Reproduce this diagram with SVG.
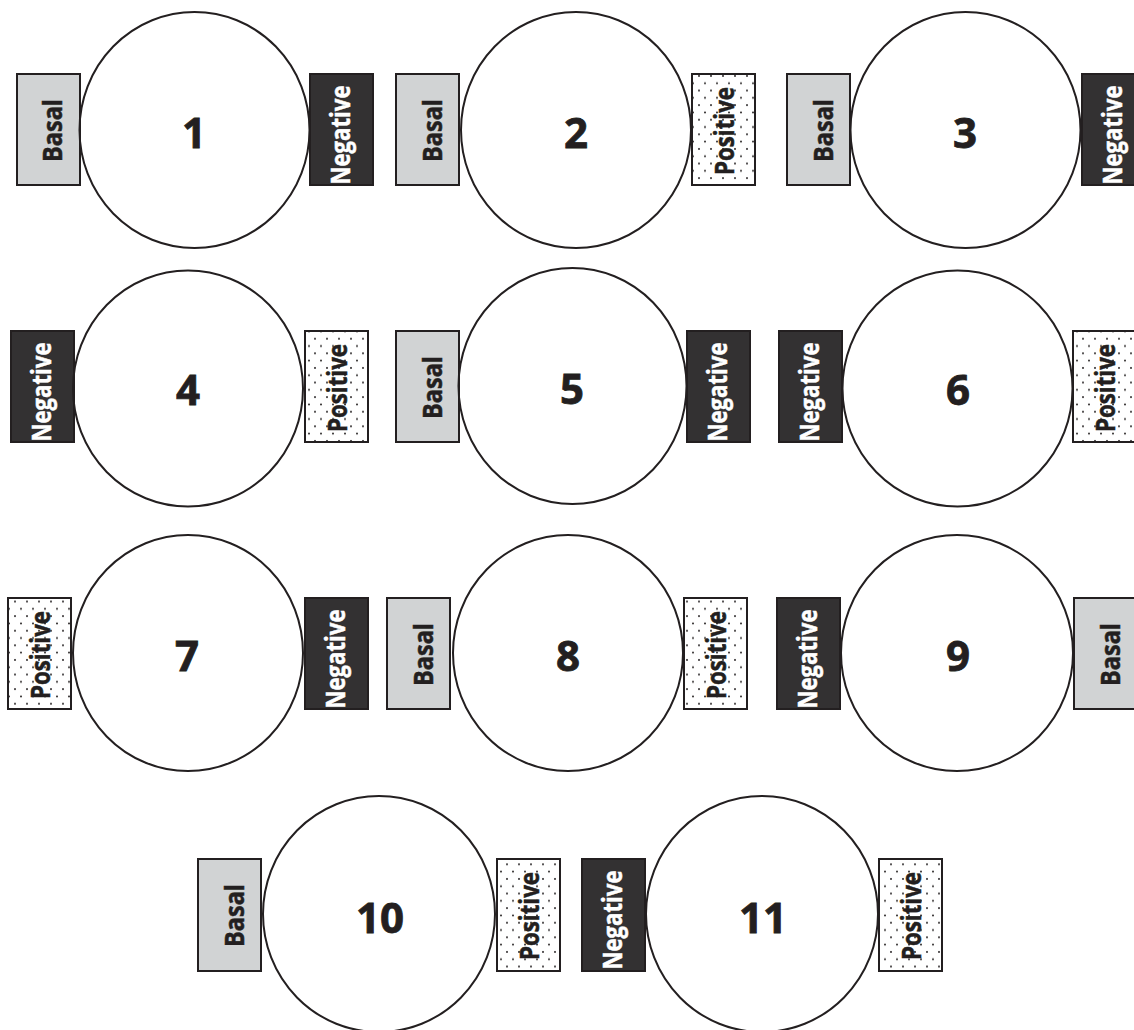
<svg xmlns="http://www.w3.org/2000/svg" width="1134" height="1030" viewBox="0 0 1134 1030">
<defs>
<pattern id="dots" width="12" height="14.6" patternUnits="userSpaceOnUse">
<rect width="12" height="14.6" fill="#ffffff"/>
<circle cx="3" cy="3" r="1" fill="#231f20"/>
<circle cx="9" cy="10.3" r="1" fill="#231f20"/>
</pattern>
</defs>
<style>
.basal{fill:#d1d3d4;stroke:#231f20;stroke-width:2}
.neg{fill:#333132;stroke:#231f20;stroke-width:2}
.pos{fill:url(#dots);stroke:#231f20;stroke-width:2}
.ring{fill:none;stroke:#231f20;stroke-width:2}
.lb{font-family:"Open Sans","Noto Sans",sans-serif;font-weight:700;text-anchor:middle;stroke-width:0.5}
.tb{font-size:27px;fill:#231f20;stroke:#231f20}
.tn{font-size:26px;fill:#ffffff;stroke:#ffffff}
.tp{font-size:26px;fill:#231f20;stroke:#231f20}
.num{font-family:"Open Sans","Noto Sans",sans-serif;font-weight:700;font-size:42px;fill:#231f20;stroke:#231f20;stroke-width:0.8;text-anchor:middle}
</style>
<rect width="1134" height="1030" fill="#ffffff"/>
<g id="connectors"/>

<g id="node1">
<rect class="basal" x="17" y="74" width="63" height="111"/>
<text class="lb tb" transform="translate(62,130.5) rotate(-90)" textLength="63" lengthAdjust="spacingAndGlyphs">Basal</text>
<rect class="neg" x="310" y="74" width="63" height="111"/>
<text class="lb tn" transform="translate(350,135) rotate(-90)" textLength="99" lengthAdjust="spacingAndGlyphs">Negative</text>
<ellipse class="ring" cx="194.5" cy="130" rx="115" ry="118"/>
<text class="num" x="194" y="148">1</text>
</g>

<g id="node2">
<rect class="basal" x="396" y="74" width="63" height="111"/>
<text class="lb tb" transform="translate(442,130.5) rotate(-90)" textLength="63" lengthAdjust="spacingAndGlyphs">Basal</text>
<rect class="pos" x="692" y="74" width="63" height="111"/>
<text class="lb tp" transform="translate(734,131) rotate(-90)" textLength="88" lengthAdjust="spacingAndGlyphs">Positive</text>
<ellipse class="ring" cx="576" cy="130" rx="115" ry="118"/>
<text class="num" x="576" y="148">2</text>
</g>

<g id="node3">
<rect class="basal" x="787" y="74" width="63" height="111"/>
<text class="lb tb" transform="translate(833,130.5) rotate(-90)" textLength="63" lengthAdjust="spacingAndGlyphs">Basal</text>
<rect class="neg" x="1082" y="74" width="63" height="111"/>
<text class="lb tn" transform="translate(1122,135) rotate(-90)" textLength="99" lengthAdjust="spacingAndGlyphs">Negative</text>
<ellipse class="ring" cx="965.5" cy="130" rx="115" ry="118"/>
<text class="num" x="965" y="148">3</text>
</g>

<g id="node4">
<rect class="neg" x="11" y="331" width="63" height="111"/>
<text class="lb tn" transform="translate(51,392) rotate(-90)" textLength="99" lengthAdjust="spacingAndGlyphs">Negative</text>
<rect class="pos" x="305" y="331" width="63" height="111"/>
<text class="lb tp" transform="translate(347,388) rotate(-90)" textLength="88" lengthAdjust="spacingAndGlyphs">Positive</text>
<ellipse class="ring" cx="188" cy="388.5" rx="115" ry="118"/>
<text class="num" x="188" y="405">4</text>
</g>

<g id="node5">
<rect class="basal" x="396" y="331" width="63" height="111"/>
<text class="lb tb" transform="translate(442,387.5) rotate(-90)" textLength="63" lengthAdjust="spacingAndGlyphs">Basal</text>
<rect class="neg" x="687" y="331" width="63" height="111"/>
<text class="lb tn" transform="translate(727,392) rotate(-90)" textLength="99" lengthAdjust="spacingAndGlyphs">Negative</text>
<ellipse class="ring" cx="572.5" cy="386" rx="114" ry="118"/>
<text class="num" x="572" y="404">5</text>
</g>

<g id="node6">
<rect class="neg" x="779" y="331" width="63" height="111"/>
<text class="lb tn" transform="translate(819,392) rotate(-90)" textLength="99" lengthAdjust="spacingAndGlyphs">Negative</text>
<rect class="pos" x="1073" y="331" width="63" height="111"/>
<text class="lb tp" transform="translate(1115,388) rotate(-90)" textLength="88" lengthAdjust="spacingAndGlyphs">Positive</text>
<ellipse class="ring" cx="957.5" cy="388.5" rx="115" ry="118"/>
<text class="num" x="958" y="405">6</text>
</g>

<g id="node7">
<rect class="pos" x="8" y="598" width="63" height="111"/>
<text class="lb tp" transform="translate(50,655) rotate(-90)" textLength="88" lengthAdjust="spacingAndGlyphs">Positive</text>
<rect class="neg" x="305" y="598" width="63" height="111"/>
<text class="lb tn" transform="translate(345,659) rotate(-90)" textLength="99" lengthAdjust="spacingAndGlyphs">Negative</text>
<ellipse class="ring" cx="188" cy="653" rx="115" ry="118"/>
<text class="num" x="187" y="671">7</text>
</g>

<g id="node8">
<rect class="basal" x="387" y="598" width="63" height="111"/>
<text class="lb tb" transform="translate(433,654.5) rotate(-90)" textLength="63" lengthAdjust="spacingAndGlyphs">Basal</text>
<rect class="pos" x="684" y="598" width="63" height="111"/>
<text class="lb tp" transform="translate(726,655) rotate(-90)" textLength="88" lengthAdjust="spacingAndGlyphs">Positive</text>
<ellipse class="ring" cx="568" cy="653" rx="115" ry="118"/>
<text class="num" x="568" y="671">8</text>
</g>

<g id="node9">
<rect class="neg" x="777" y="598" width="63" height="111"/>
<text class="lb tn" transform="translate(817,659) rotate(-90)" textLength="99" lengthAdjust="spacingAndGlyphs">Negative</text>
<rect class="basal" x="1074" y="598" width="63" height="111"/>
<text class="lb tb" transform="translate(1120,654.5) rotate(-90)" textLength="63" lengthAdjust="spacingAndGlyphs">Basal</text>
<ellipse class="ring" cx="957" cy="653" rx="116" ry="118"/>
<text class="num" x="958" y="671">9</text>
</g>

<g id="node10">
<rect class="basal" x="198" y="859" width="63" height="112"/>
<text class="lb tb" transform="translate(244,915.5) rotate(-90)" textLength="63" lengthAdjust="spacingAndGlyphs">Basal</text>
<rect class="pos" x="497" y="859" width="63" height="112"/>
<text class="lb tp" transform="translate(539,916) rotate(-90)" textLength="88" lengthAdjust="spacingAndGlyphs">Positive</text>
<ellipse class="ring" cx="379" cy="914" rx="116" ry="118"/>
<text class="num" x="380" y="933">10</text>
</g>

<g id="node11">
<rect class="neg" x="582" y="859" width="63" height="112"/>
<text class="lb tn" transform="translate(622,920) rotate(-90)" textLength="99" lengthAdjust="spacingAndGlyphs">Negative</text>
<rect class="pos" x="879" y="859" width="63" height="112"/>
<text class="lb tp" transform="translate(921,916) rotate(-90)" textLength="88" lengthAdjust="spacingAndGlyphs">Positive</text>
<ellipse class="ring" cx="762" cy="914" rx="116" ry="118"/>
<text class="num" x="763" y="933">11</text>
</g>
</svg>
